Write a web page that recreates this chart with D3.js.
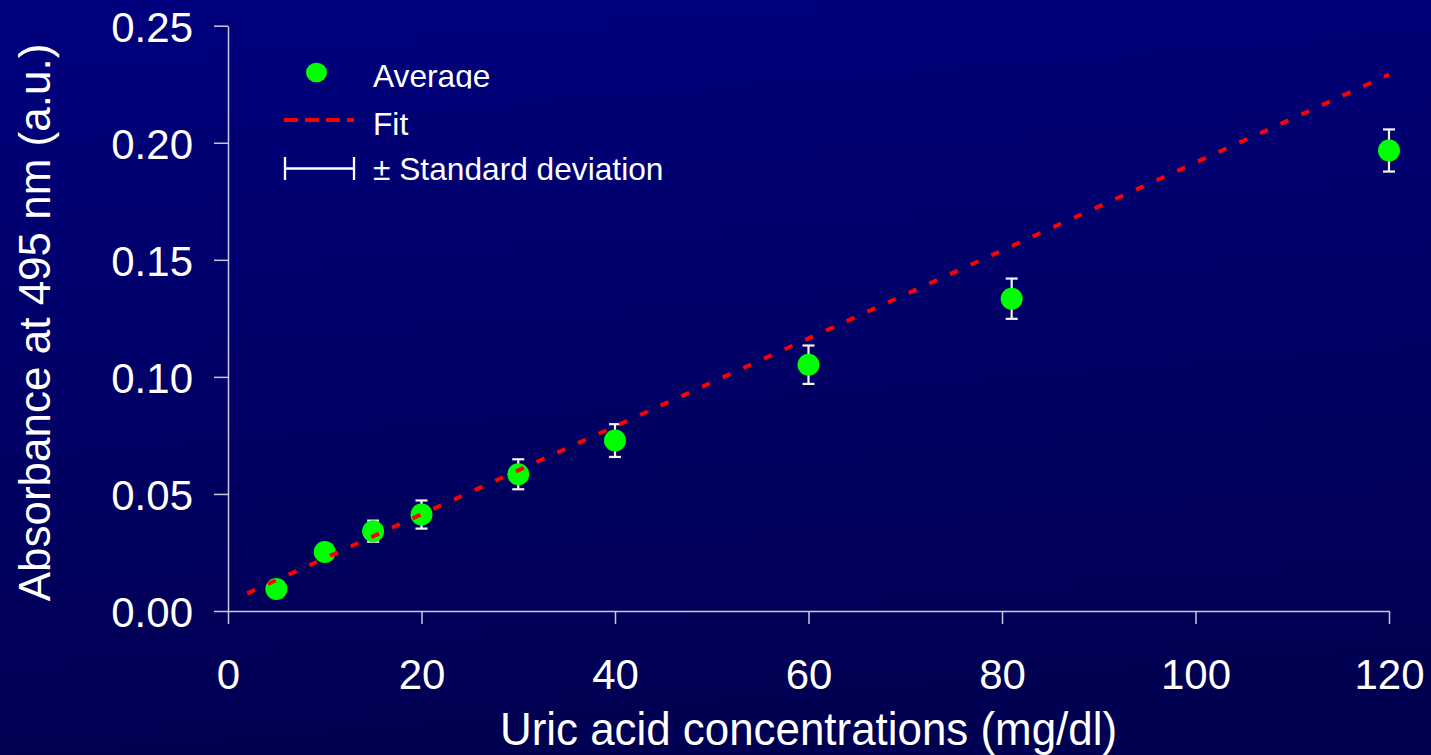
<!DOCTYPE html>
<html>
<head>
<meta charset="utf-8">
<script src="https://cdn.jsdelivr.net/npm/d3@7"></script>
<style>
html,body{margin:0;padding:0;overflow:hidden;background:#000066;}
svg{display:block;font-family:"Liberation Sans",Arial,sans-serif;}
</style>
</head>
<body>
<script>
// ---- data ----
const concentrations = [5, 10, 15, 20, 30, 40, 60, 81, 120];
const averages = [0.0094, 0.0252, 0.0341, 0.0412, 0.0584, 0.0728, 0.1052, 0.1334, 0.1967];
const stdDevs = [0.003, 0.003, 0.0045, 0.006, 0.0064, 0.007, 0.0082, 0.0086, 0.009];
const fitX = [2, 120];
const fitY = [0.0075, 0.2291];
const xTicks = [0, 20, 40, 60, 80, 100, 120];
const yTicks = [0, 0.05, 0.10, 0.15, 0.20, 0.25];
const legendLabels = ["Average", "Fit", "\u00b1 Standard deviation"];
const xTitle = "Uric acid concentrations (mg/dl)";
const yTitle = "Absorbance at 495 nm (a.u.)";

const W = 1431, H = 755;
const svg = d3.select("body").append("svg").attr("width", W).attr("height", H);

const defs = svg.append("defs");
const grad = defs.append("linearGradient").attr("id", "bg").attr("x1", 0).attr("y1", 0).attr("x2", 0.15).attr("y2", 1);
grad.append("stop").attr("offset", "0%").attr("stop-color", "#00007e");
grad.append("stop").attr("offset", "100%").attr("stop-color", "#000052");
defs.append("clipPath").attr("id", "legclip").append("rect").attr("x", 0).attr("y", 0).attr("width", W).attr("height", 88.5);

svg.append("rect").attr("width", W).attr("height", H).attr("fill", "url(#bg)");

const x = d3.scaleLinear().domain([0, 120]).range([228, 1389]);
const y = d3.scaleLinear().domain([0, 0.25]).range([611, 25.7]);

const axisColor = "#c8c8e0";

// y axis
const gy = svg.append("g").attr("transform", `translate(${x(0)},0)`)
  .call(d3.axisLeft(y).tickValues(yTicks).tickFormat(d3.format(".2f")).tickSize(14).tickSizeOuter(0).tickPadding(21));
// x axis
const gx = svg.append("g").attr("transform", `translate(0,${y(0)})`)
  .call(d3.axisBottom(x).tickValues(xTicks).tickFormat(d3.format("d")).tickSize(13).tickSizeOuter(0).tickPadding(35));

[gx, gy].forEach(g => {
  g.select(".domain").attr("stroke", axisColor).attr("stroke-width", 1.5);
  g.selectAll(".tick line").attr("stroke", axisColor).attr("stroke-width", 1.5);
  g.selectAll(".tick text").attr("fill", "#ffffff").attr("font-size", 42).attr("font-family", "Liberation Sans, Arial, sans-serif");
});
gy.selectAll(".tick text").attr("dy", "0.37em");

// axis titles
svg.append("text").attr("x", x(60)).attr("y", 745).attr("text-anchor", "middle")
  .attr("fill", "#fff").attr("font-size", 46).attr("textLength", 617).attr("lengthAdjust", "spacingAndGlyphs")
  .text(xTitle);
svg.append("text").attr("transform", "translate(50,322.5) rotate(-90)").attr("text-anchor", "middle")
  .attr("fill", "#fff").attr("font-size", 44).text(yTitle);

// error bars
const eb = svg.append("g").attr("stroke", "#f4f4f8").attr("stroke-width", 2.2);
concentrations.forEach((c, i) => {
  const cx = x(c), y1 = y(averages[i] + stdDevs[i]), y2 = y(averages[i] - stdDevs[i]);
  eb.append("line").attr("x1", cx).attr("x2", cx).attr("y1", y1).attr("y2", y2);
  eb.append("line").attr("x1", cx - 6).attr("x2", cx + 6).attr("y1", y1).attr("y2", y1);
  eb.append("line").attr("x1", cx - 6).attr("x2", cx + 6).attr("y1", y2).attr("y2", y2);
});

// points
svg.append("g").selectAll("circle").data(concentrations).join("circle")
  .attr("cx", d => x(d)).attr("cy", (d, i) => y(averages[i])).attr("r", 11).attr("fill", "#00ff00");

// fit line
const line = d3.line().x(d => x(d[0])).y(d => y(d[1]));
svg.append("path").datum(fitX.map((v, i) => [v, fitY[i]])).attr("d", line)
  .attr("fill", "none").attr("stroke", "#ff0000").attr("stroke-width", 4).attr("stroke-dasharray", "8.5,14.2");

// legend
const leg = svg.append("g");
leg.append("ellipse").attr("cx", 316.5).attr("cy", 72.5).attr("rx", 10.5).attr("ry", 9.8).attr("fill", "#00ff00");
leg.append("line").attr("x1", 284).attr("x2", 354).attr("y1", 120).attr("y2", 120)
  .attr("stroke", "#ff0000").attr("stroke-width", 4).attr("stroke-dasharray", "14,7");
const le = leg.append("g").attr("stroke", "#ffffff").attr("stroke-width", 2.3);
le.append("line").attr("x1", 285).attr("x2", 354).attr("y1", 168.5).attr("y2", 168.5);
le.append("line").attr("x1", 285).attr("x2", 285).attr("y1", 157).attr("y2", 180);
le.append("line").attr("x1", 354).attr("x2", 354).attr("y1", 157).attr("y2", 180);
const ly = [87, 135, 179.5];
legendLabels.forEach((t, i) => {
  const tx = leg.append("text").attr("x", 373).attr("y", ly[i]).attr("fill", "#fff").attr("font-size", 31.7).text(t);
  if (i === 0) tx.attr("clip-path", "url(#legclip)");
});
</script>
</body>
</html>
